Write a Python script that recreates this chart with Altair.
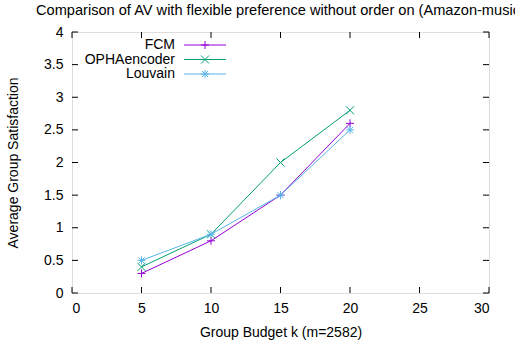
import altair as alt
import pandas as pd

series = ["FCM", "OPHAencoder", "Louvain"]
colors = ["#9400d3", "#009e73", "#56b4e9"]
budgets = [5, 10, 15, 20]
fcm = [0.3, 0.8, 1.5, 2.6]
opha = [0.4, 0.9, 2.0, 2.8]
louvain = [0.5, 0.9, 1.5, 2.5]
x_ticks = [0, 5, 10, 15, 20, 25, 30]
y_ticks = [0, 0.5, 1, 1.5, 2, 2.5, 3, 3.5, 4]
title_text = "Comparison of AV with flexible preference without order on (Amazon-music)"
x_title = "Group Budget k (m=2582)"
y_title = "Average Group Satisfaction"

W, H = 417, 261
FONT = "Liberation Sans"
FS = 14

rows = []
for name, vals in zip(series, [fcm, opha, louvain]):
    for b, v in zip(budgets, vals):
        rows.append({"series": name, "k": b, "v": v})
df = pd.DataFrame(rows)

shapes = [
    "M-1,0H1M0,-1V1",
    "M-1,-1L1,1M-1,1L1,-1",
    "M-1,0H1M0,-1V1M-0.75,-0.75L0.75,0.75M-0.75,0.75L0.75,-0.75",
]

xs = alt.Scale(domain=[0, 30], nice=False, zero=False)
ys = alt.Scale(domain=[0, 4], nice=False, zero=False)
cs = alt.Scale(domain=series, range=colors)
ss = alt.Scale(domain=series, range=shapes)

axis_common = dict(ticks=False, tickSize=0, domain=False, grid=False,
                   labelFont=FONT, titleFont=FONT, labelFontSize=FS, titleFontSize=FS,
                   labelColor="black", titleColor="black", titleFontWeight="normal",
                   labelOverlap=False)
xaxis = alt.Axis(values=x_ticks, format="d", labelPadding=8, titlePadding=10, **axis_common)
yaxis = alt.Axis(values=y_ticks, format="~g", labelPadding=9, titlePadding=23, **axis_common)


def X(field):
    return alt.X(field, scale=xs, title=x_title, axis=xaxis)


def Y(field):
    return alt.Y(field, scale=ys, title=y_title, axis=yaxis)


base = alt.Chart(df)
lines = base.mark_line(strokeWidth=1).encode(
    x=X("k:Q"), y=Y("v:Q"),
    color=alt.Color("series:N", scale=cs, legend=None),
    order=alt.Order("k:Q"),
)
points = base.mark_point(filled=False, strokeWidth=1, size=64, opacity=1).encode(
    x=X("k:Q"), y=Y("v:Q"),
    color=alt.Color("series:N", scale=cs, legend=None),
    shape=alt.Shape("series:N", scale=ss, legend=None),
)

xt = pd.DataFrame({"k": x_ticks})
yt = pd.DataFrame({"v": y_ticks})
tl = 6
bt = alt.Chart(xt).mark_rule(color="black", strokeWidth=1).encode(
    x=X("k:Q"), y=alt.value(H), y2=alt.value(H - tl))
tt = alt.Chart(xt).mark_rule(color="black", strokeWidth=1).encode(
    x=X("k:Q"), y=alt.value(0), y2=alt.value(tl))
lt = alt.Chart(yt).mark_rule(color="black", strokeWidth=1).encode(
    y=Y("v:Q"), x=alt.value(0), x2=alt.value(tl))
rt = alt.Chart(yt).mark_rule(color="black", strokeWidth=1).encode(
    y=Y("v:Q"), x=alt.value(W), x2=alt.value(W - tl))

title = alt.Chart(pd.DataFrame({"tt": [title_text]})).mark_text(
    align="left", baseline="middle", font=FONT, fontSize=14.6, color="black"
).encode(text="tt:N", x=alt.value(-36), y=alt.value(-21.5))

legend_layers = []
ly = [13, 27.5, 42]
for i, name in enumerate(series):
    d = pd.DataFrame({"series": [name]})
    c = alt.Chart(d)
    legend_layers.append(c.mark_text(align="right", baseline="middle", font=FONT,
                                      fontSize=FS, color="black").encode(
        text="series:N", x=alt.value(103), y=alt.value(ly[i])))
    legend_layers.append(c.mark_rule(strokeWidth=1, color=colors[i]).encode(
        x=alt.value(112), x2=alt.value(154), y=alt.value(ly[i])))
    legend_layers.append(c.mark_point(filled=False, strokeWidth=1, size=64, opacity=1,
                                      color=colors[i], shape=shapes[i]).encode(
        x=alt.value(133), y=alt.value(ly[i])))

chart = alt.layer(lines, points, bt, tt, lt, rt, title, *legend_layers).properties(
    width=W, height=H,
    autosize=alt.AutoSizeParams(type="none"),
    padding={"left": 72, "top": 32, "right": 26, "bottom": 53},
).configure_view(stroke="black", strokeWidth=1).configure(background="white")

chart.save("out.html", embed_options={"renderer": "svg", "actions": False})
